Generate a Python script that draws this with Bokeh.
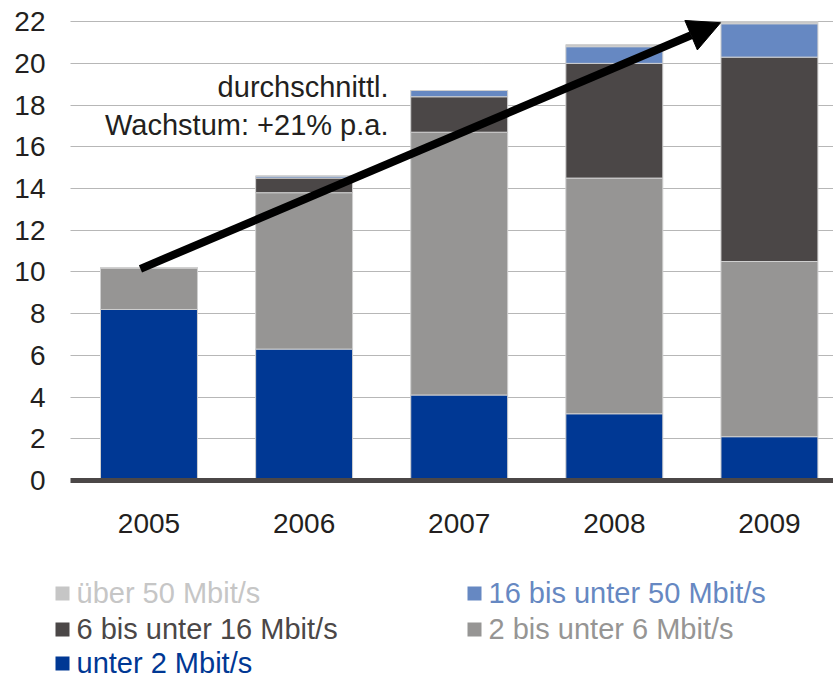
from bokeh.plotting import figure
from bokeh.layouts import column
from bokeh.core.properties import value
from bokeh.models import (Range1d, FixedTicker, Arrow, NormalHead, Label, ColumnDataSource)
from bokeh.embed import file_html
from bokeh.resources import INLINE

# ---------------- data ----------------
years = ["2005", "2006", "2007", "2008", "2009"]
x_pos = [1, 2, 3, 4, 5]
series_keys = ["unter_2", "bis_6", "bis_16", "bis_50", "ueber_50"]
series_labels = ["unter 2 Mbit/s", "2 bis unter 6 Mbit/s", "6 bis unter 16 Mbit/s",
                 "16 bis unter 50 Mbit/s", "über 50 Mbit/s"]
unter_2 = [8.2, 6.3, 4.1, 3.2, 2.1]
bis_6 = [2.0, 7.5, 12.6, 11.3, 8.4]
bis_16 = [0.0, 0.7, 1.7, 5.5, 9.8]
bis_50 = [0.0, 0.1, 0.3, 0.8, 1.6]
ueber_50 = [0.0, 0.0, 0.0, 0.1, 0.1]
y_ticks = [0, 2, 4, 6, 8, 10, 12, 14, 16, 18, 20, 22]
arrow_start = (0.945, 10.15)
arrow_end = (4.685, 21.95)
annotation_lines = ["durchschnittl.", "Wachstum: +21% p.a."]
annotation_pos = [(2.544, 18.88), (2.544, 17.06)]

colors = ["#003894", "#969594", "#4b4747", "#6688c2", "#c6c6c6"]
FONT = "Liberation Sans"
TXT = "#231f20"

src = ColumnDataSource(dict(x=x_pos, unter_2=unter_2, bis_6=bis_6, bis_16=bis_16,
                            bis_50=bis_50, ueber_50=ueber_50))

W = 833
H_MAIN = 570
H_LEG = 108

p = figure(width=W, height=H_MAIN, output_backend="svg", toolbar_location=None,
           x_range=Range1d(0.494, 5.413), y_range=Range1d(0, 22.2),
           min_border_left=70, min_border_right=0, min_border_top=17,
           min_border_bottom=H_MAIN - 17 - 463)
p.frame_align = False
p.outline_line_color = None
p.background_fill_color = "white"
p.border_fill_color = "white"

renderers = p.vbar_stack(series_keys, x="x", width=0.625, source=src, color=colors,
                         line_color="#cfcfcf", line_width=1)

# axes
p.xaxis.ticker = FixedTicker(ticks=x_pos)
p.xaxis.major_label_overrides = {x: y for x, y in zip(x_pos, years)}
p.xaxis.axis_line_width = 5
p.xaxis.axis_line_color = "#4b4747"
p.xaxis.major_tick_line_color = None
p.xaxis.minor_tick_line_color = None
p.xaxis.major_tick_out = 0
p.xaxis.major_tick_in = 0
p.xaxis.major_label_standoff = 33
p.xaxis.major_label_text_font = FONT
p.xaxis.major_label_text_font_size = "28px"
p.xaxis.major_label_text_color = TXT

p.yaxis.ticker = FixedTicker(ticks=y_ticks)
p.yaxis.axis_line_color = None
p.yaxis.major_tick_line_color = None
p.yaxis.minor_tick_line_color = None
p.yaxis.major_tick_out = 0
p.yaxis.major_tick_in = 0
p.yaxis.major_label_standoff = 25
p.yaxis.major_label_text_font = FONT
p.yaxis.major_label_text_font_size = "28px"
p.yaxis.major_label_text_color = TXT

p.xgrid.visible = False
p.ygrid.ticker = FixedTicker(ticks=y_ticks[1:])
p.ygrid.grid_line_color = "#6f6f6f"
p.ygrid.grid_line_dash = "1 1"
p.ygrid.grid_line_width = 1

# arrow
p.add_layout(Arrow(end=NormalHead(size=32, fill_color="black", line_color="black"),
                   x_start=arrow_start[0], y_start=arrow_start[1],
                   x_end=arrow_end[0], y_end=arrow_end[1],
                   line_width=8, line_color="black"))

# annotation text
for txt, (lx, ly) in zip(annotation_lines, annotation_pos):
    p.add_layout(Label(x=lx, y=ly, text=txt, text_align="right",
                       text_baseline="alphabetic", text_font=FONT,
                       text_font_size="29px", text_color=TXT))

# ---------------- legend (separate strip below the chart) ----------------
# entry order in reference: (series index, column, row)
legend_order = [(4, 0, 0), (3, 1, 0), (2, 0, 1), (1, 1, 1), (0, 0, 2)]
col_x = [55, 467]          # left edge of colour square (px)
row_mid = [85, 49, 15]     # square centre, px from strip bottom
text_shift = 1             # text anchor offset from square centre
sq = dict(x=[], y=[], c=[])
tx = dict(x=[], y=[], t=[], c=[])
for idx, ci, ri in legend_order:
    sq["x"].append(col_x[ci] + 7)
    sq["y"].append(row_mid[ri])
    sq["c"].append(colors[idx])
    tx["x"].append(col_x[ci] + 21)
    tx["y"].append(row_mid[ri] + text_shift)
    tx["t"].append(series_labels[idx])
    tx["c"].append(colors[idx])

p2 = figure(width=W, height=H_LEG, output_backend="svg", toolbar_location=None,
            x_range=Range1d(0, W), y_range=Range1d(0, H_LEG),
            x_axis_type=None, y_axis_type=None, min_border=0)
p2.frame_align = False
p2.outline_line_color = None
p2.xgrid.visible = False
p2.ygrid.visible = False
p2.rect(x="x", y="y", width=14, height=14, width_units="screen", height_units="screen",
        fill_color="c", line_color=None, source=ColumnDataSource(sq))
p2.text(x="x", y="y", text="t", text_color="c", text_font=value(FONT),
        text_font_size=value("29px"), text_baseline=value("alphabetic"),
        text_align=value("left"), source=ColumnDataSource(tx))

layout = column(p, p2, spacing=0)
open("out.html", "w").write(file_html(layout, INLINE))
